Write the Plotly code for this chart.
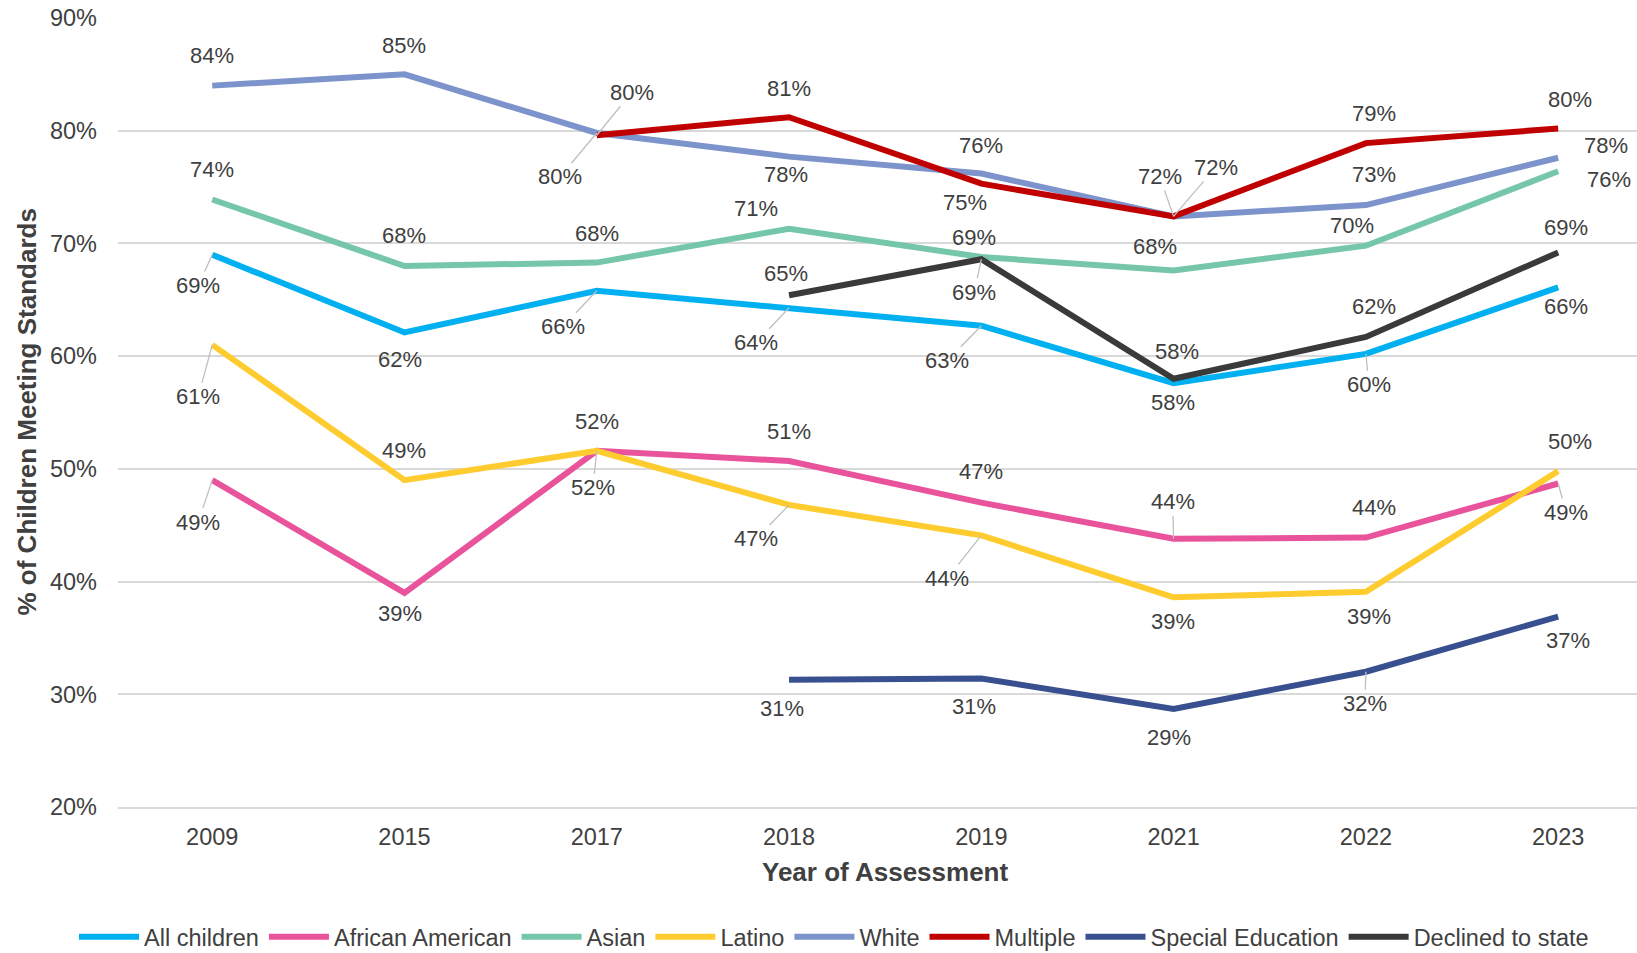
import plotly.graph_objects as go

years = ["2009", "2015", "2017", "2018", "2019", "2021", "2022", "2023"]
all_children = [69.0, 62.1, 65.8, 64.3, 62.7, 57.6, 60.2, 66.1]
african_american = [49.0, 39.0, 51.6, 50.7, 47.0, 43.8, 43.9, 48.7]
asian = [73.9, 68.0, 68.3, 71.3, 68.8, 67.6, 69.8, 76.4]
latino = [61.0, 49.0, 51.6, 46.8, 44.1, 38.6, 39.1, 49.8]
white = [84.0, 85.0, 79.8, 77.7, 76.2, 72.4, 73.4, 77.6]
multiple = [None, None, 79.6, 81.2, 75.3, 72.4, 78.9, 80.2]
special_education = [None, None, None, 31.3, 31.4, 28.7, 32.0, 36.9]
declined = [None, None, None, 65.4, 68.6, 58.0, 61.7, 69.2]

series = [
    ("All children", all_children, "#00B0F0"),
    ("African American", african_american, "#E9539B"),
    ("Asian", asian, "#76C7A9"),
    ("Latino", latino, "#FFCC2F"),
    ("White", white, "#7D93CB"),
    ("Multiple", multiple, "#C00000"),
    ("Special Education", special_education, "#38508F"),
    ("Declined to state", declined, "#3A3A3A"),
]

# label placement (pixel offsets from the point, leader line flag)
label_pos = {
    "All children": [(-14, 31, 1), (-4, 27, 0), (-34, 36, 1), (-33, 35, 1), (-34, 35, 1), (-1, 19, 0), (3, 31, 1), (8, 19, 0)],
    "African American": [(-14, 42, 1), (-4, 21, 0), (-4, 37, 1), (0, -29, 0), (0, -31, 0), (-1, -37, 1), (8, -30, 0), (8, 29, 1)],
    "Asian": [(0, -30, 0), (0, -30, 0), (0, -29, 0), (-33, -20, 0), (-7, -19, 0), (-19, -24, 0), (-14, -20, 0), (51, 8, 0)],
    "Latino": [(-14, 52, 1), (0, -30, 0), (0, -29, 0), (-33, 34, 1), (-34, 43, 1), (-1, 24, 0), (3, 25, 0), (12, -30, 0)],
    "White": [(0, -30, 0), (0, -29, 0), (-37, 44, 1), (-3, 18, 0), (0, -28, 0), (-14, -40, 1), (8, -31, 0), (48, -12, 0)],
    "Multiple": [None, None, (35, -43, 1), (0, -29, 0), (-16, 19, 0), (42, -49, 1), (8, -30, 0), (12, -29, 0)],
    "Special Education": [None, None, None, (-7, 29, 0), (-7, 28, 0), (-5, 29, 0), (-1, 32, 1), (10, 24, 0)],
    "Declined to state": [None, None, None, (-3, -22, 0), (-7, 33, 1), (3, -27, 0), (8, -30, 0), (8, -25, 0)],
}

FONT = "Liberation Sans, Arial, sans-serif"
TXT = "#404040"

fig = go.Figure()
annotations = []
for name, vals, color in series:
    fig.add_trace(go.Scatter(
        x=years, y=vals, name=name, mode="lines",
        line=dict(color=color, width=6),
        connectgaps=False,
    ))
    for i, v in enumerate(vals):
        if v is None:
            continue
        dx, dy, leader = label_pos[name][i]
        annotations.append(dict(
            x=i, y=v, xref="x", yref="y",
            text=f"{v:.0f}%", showarrow=True, arrowhead=0,
            arrowwidth=1.3,
            arrowcolor="#BFBFBF" if leader else "rgba(0,0,0,0)",
            ax=dx, ay=dy, standoff=0,
            font=dict(family=FONT, size=22, color=TXT),
        ))

# axis titles
annotations.append(dict(
    text="<b>Year of Assessment</b>", xref="paper", yref="paper",
    x=(885 - 118) / 1519, y=(807 - 872) / 789, xanchor="center", yanchor="middle",
    showarrow=False, font=dict(family=FONT, size=26, color=TXT),
))
annotations.append(dict(
    text="<b>% of Children Meeting Standards</b>", xref="paper", yref="paper",
    x=(26 - 118) / 1519, y=0.5, xanchor="center", yanchor="middle", textangle=-90,
    showarrow=False, font=dict(family=FONT, size=26, color=TXT),
))

fig.update_layout(
    template="none",
    width=1637, height=953,
    margin=dict(l=118, r=0, t=18, b=146, autoexpand=False),
    paper_bgcolor="white", plot_bgcolor="white",
    font=dict(family=FONT, color=TXT),
    annotations=annotations,
    showlegend=True,
    legend=dict(
        orientation="h", xref="container", yref="container",
        x=834 / 1637, xanchor="center",
        y=1 - 937 / 953, yanchor="middle",
        font=dict(family=FONT, size=23.5, color=TXT),
        itemwidth=60,
        bgcolor="rgba(0,0,0,0)",
    ),
    xaxis=dict(
        type="category", range=[-0.49, 7.41], showgrid=False,
        showline=True, linecolor="#D9D9D9", linewidth=1.5,
        ticks="", tickfont=dict(family=FONT, size=23.5, color=TXT),
        ticklabelstandoff=8, fixedrange=True, automargin=False,
        zeroline=False,
    ),
    yaxis=dict(
        range=[20, 90], dtick=10, ticksuffix="%",
        showgrid=True, gridcolor="#D9D9D9", gridwidth=1.5,
        zeroline=False, ticks="", showline=False,
        tickfont=dict(family=FONT, size=23.5, color=TXT),
        ticklabelstandoff=20, automargin=False, fixedrange=True,
    ),
)

fig.write_html(
    "out.html",
    config={"displayModeBar": False},
    post_script="document.body.style.margin='0';document.body.style.overflow='hidden';",
)
